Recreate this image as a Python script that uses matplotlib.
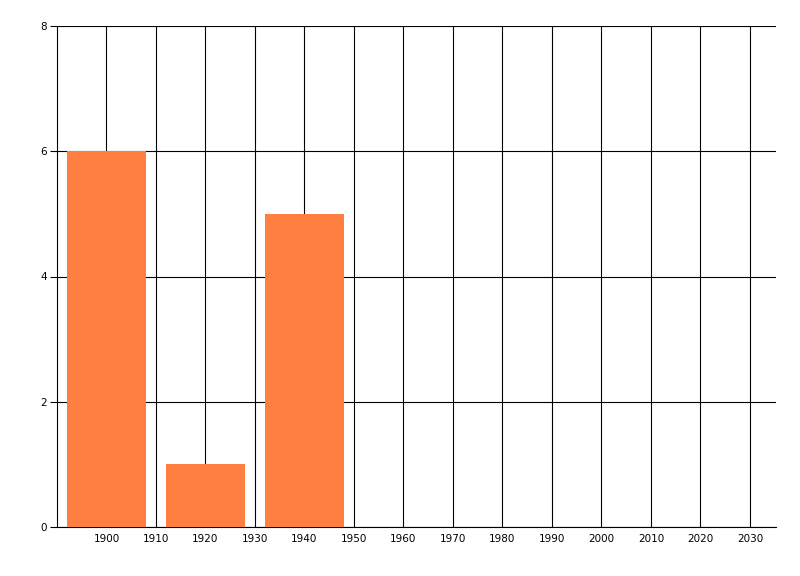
import matplotlib
matplotlib.use("Agg")
import matplotlib.pyplot as plt

years = [1900, 1920, 1940]
counts = [6, 1, 5]
xticks = list(range(1900, 2031, 10))
yticks = [0, 2, 4, 6, 8]

fig = plt.figure(figsize=(8, 5.76), dpi=100)
ax = fig.add_axes([57/800, 49/576, (775.7-57)/800, (527-26)/576])
ax.bar(years, counts, width=16, color='#FF7F41', zorder=3)
ax.set_xlim(1890, 2035.2)
ax.set_ylim(0, 8)
ax.set_xticks(xticks)
ax.set_xticklabels([str(t) for t in xticks], fontsize=7.5)
ax.set_yticks(yticks)
ax.set_yticklabels([str(t) for t in yticks], fontsize=7.5)
ax.tick_params(axis='x', length=0, pad=5)
ax.tick_params(axis='y', length=5, width=0.8, pad=2)
ax.grid(True, color='black', linewidth=0.8, zorder=0)
ax.set_axisbelow(True)
for s in ['top', 'right']:
    ax.spines[s].set_visible(False)
for s in ['left', 'bottom']:
    ax.spines[s].set_linewidth(0.8)
fig.savefig('out.png', dpi=100)
